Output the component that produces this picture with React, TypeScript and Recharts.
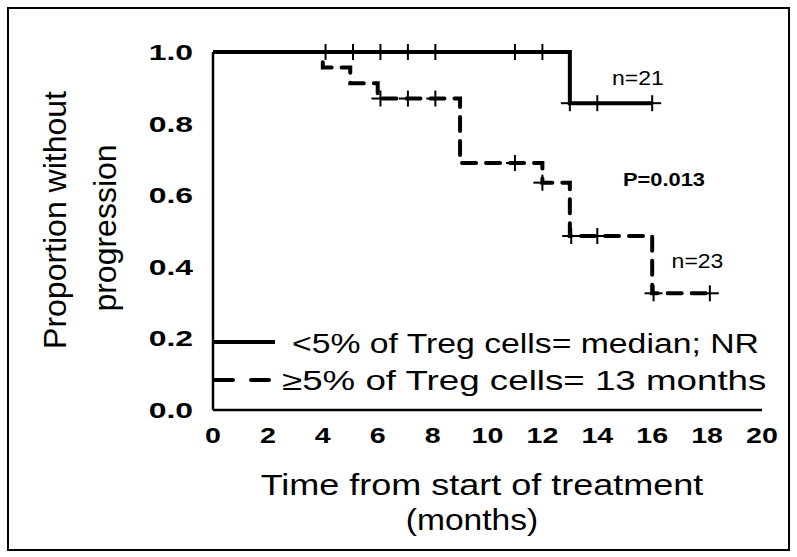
import { ComposedChart, Legend, Line, ReferenceDot, Scatter, XAxis, YAxis } from "recharts";

// Kaplan-Meier steps, <5% Treg (n=21)
const lowTimes = [0, 13, 16];
const lowSurv = [1, 0.857, 0.857];
const lowCensorTimes = [4.1, 5.1, 6.1, 7.1, 8.1, 11, 12, 13, 14, 16];
const lowCensorSurv = [1, 1, 1, 1, 1, 1, 1, 0.857, 0.857, 0.857];

// >=5% Treg (n=23)
const highTimes = [0, 4, 5, 6, 9, 12, 13, 16, 18.1];
const highSurv = [1, 0.957, 0.913, 0.87, 0.69, 0.635, 0.486, 0.326, 0.326];
const highCensorTimes = [6.1, 7.1, 8.1, 11, 12, 13.05, 14, 16.05, 18.1];
const highCensorSurv = [0.87, 0.87, 0.87, 0.69, 0.635, 0.486, 0.486, 0.326, 0.326];

const xTicks = [0, 2, 4, 6, 8, 10, 12, 14, 16, 18, 20];
const yTicks = [0, 0.2, 0.4, 0.6, 0.8, 1];

const lowLabel = "<5% of Treg cells= median; NR";
const highLabel = "\u22655% of Treg cells= 13 months";

const FONT = "Arial, 'Liberation Sans', sans-serif";

const toPoints = (t: number[], s: number[]) => t.map((time, i) => ({ time, surv: s[i] }));

const lowData = toPoints(lowTimes, lowSurv);
const highData = toPoints(highTimes, highSurv);
const lowCensor = toPoints(lowCensorTimes, lowCensorSurv);
const highCensor = toPoints(highCensorTimes, highCensorSurv);

const CensorMark = (props: any) => {
  const { cx, cy } = props;
  return (
    <g stroke="#000" strokeWidth={2}>
      <line x1={cx} y1={cy - 8} x2={cx} y2={cy + 8} />
      <line x1={cx - 9} y1={cy} x2={cx + 9} y2={cy} />
    </g>
  );
};

const XTick = (props: any) => {
  const { x, y, payload } = props;
  return (
    <text
      transform={`translate(${x},${y + 25}) scale(1.3,1)`}
      textAnchor="middle"
      fontFamily={FONT}
      fontWeight="bold"
      fontSize={22}
      fill="#000"
    >
      {payload.value}
    </text>
  );
};

const YTick = (props: any) => {
  const { x, y, payload } = props;
  return (
    <text
      transform={`translate(${x - 12},${y + 8}) scale(1.45,1)`}
      textAnchor="end"
      fontFamily={FONT}
      fontWeight="bold"
      fontSize={22}
      fill="#000"
    >
      {payload.value.toFixed(1)}
    </text>
  );
};

const LegendBox = () => (
  <svg width={570} height={80} style={{ overflow: "visible" }}>
    <line x1={0} y1={17} x2={62} y2={17} stroke="#000" strokeWidth={4} />
    <text transform="translate(79,28) scale(1.25,1)" fontFamily={FONT} fontSize={27} fill="#000">
      {lowLabel}
    </text>
    <line
      x1={2}
      y1={55}
      x2={60}
      y2={55}
      stroke="#000"
      strokeWidth={4}
      strokeDasharray="18 18"
      strokeLinecap="round"
    />
    <text transform="translate(69,65) scale(1.36,1)" fontFamily={FONT} fontSize={27} fill="#000">
      {highLabel}
    </text>
  </svg>
);

const note = (value: string, bold = false) => (props: any) => {
  const { viewBox } = props;
  return (
    <text
      transform={`translate(${viewBox.x},${viewBox.y + 7}) scale(1.15,1)`}
      textAnchor="middle"
      fontFamily={FONT}
      fontWeight={bold ? "bold" : "normal"}
      fontSize={bold ? 19 : 20}
      fill="#000"
    >
      {value}
    </text>
  );
};

export default function App() {
  return (
    <div style={{ position: "absolute", left: 0, top: 0, width: 797, height: 557, background: "#fff" }}>
      <div
        style={{
          position: "absolute",
          left: 7,
          top: 7,
          width: 779,
          height: 540,
          border: "2px solid #000",
        }}
      />
      <ComposedChart
        width={797}
        height={557}
        margin={{ top: 52, right: 35, bottom: 117, left: 153 }}
        style={{ position: "absolute", left: 0, top: 0 }}
      >
        <XAxis
          type="number"
          dataKey="time"
          domain={[0, 20]}
          ticks={xTicks}
          tick={<XTick />}
          tickLine={false}
          axisLine={{ stroke: "#000", strokeWidth: 2.5 }}
          height={30}
          allowDataOverflow
        />
        <YAxis
          type="number"
          dataKey="surv"
          domain={[0, 1]}
          ticks={yTicks}
          tick={<YTick />}
          tickLine={false}
          axisLine={{ stroke: "#000", strokeWidth: 2.5 }}
          width={60}
        />
        <Line
          data={highData}
          dataKey="surv"
          type="stepAfter"
          stroke="#000"
          strokeWidth={4}
          strokeDasharray="14 10"
          strokeLinecap="round"
          dot={false}
          activeDot={false}
          isAnimationActive={false}
        />
        <Line
          data={lowData}
          dataKey="surv"
          type="stepAfter"
          stroke="#000"
          strokeWidth={4}
          dot={false}
          activeDot={false}
          isAnimationActive={false}
        />
        <Scatter data={lowCensor} dataKey="surv" shape={<CensorMark />} isAnimationActive={false} />
        <Scatter data={highCensor} dataKey="surv" shape={<CensorMark />} isAnimationActive={false} />
        <ReferenceDot x={15.48} y={0.927} r={0} stroke="none" label={note("n=21")} />
        <ReferenceDot x={16.43} y={0.645} r={0} stroke="none" label={note("P=0.013", true)} />
        <ReferenceDot x={17.65} y={0.416} r={0} stroke="none" label={note("n=23")} />
        <Legend
          layout="vertical"
          align="center"
          verticalAlign="middle"
          content={<LegendBox />}
          wrapperStyle={{ left: 213, top: 325, width: 570 }}
        />
      </ComposedChart>
      <svg
        width={797}
        height={557}
        style={{ position: "absolute", left: 0, top: 0, pointerEvents: "none" }}
      >
        <text
          transform="translate(482,495) scale(1.2,1)"
          textAnchor="middle"
          fontFamily={FONT}
          fontSize={30}
          fill="#000"
        >
          Time from start of treatment
        </text>
        <text
          transform="translate(472,530) scale(1.12,1)"
          textAnchor="middle"
          fontFamily={FONT}
          fontSize={30}
          fill="#000"
        >
          (months)
        </text>
        <text
          transform="translate(66,220) rotate(-90)"
          textAnchor="middle"
          fontFamily={FONT}
          fontSize={32}
          fill="#000"
        >
          Proportion without
        </text>
        <text
          transform="translate(116,228) rotate(-90)"
          textAnchor="middle"
          fontFamily={FONT}
          fontSize={32}
          fill="#000"
        >
          progression
        </text>
      </svg>
    </div>
  );
}
